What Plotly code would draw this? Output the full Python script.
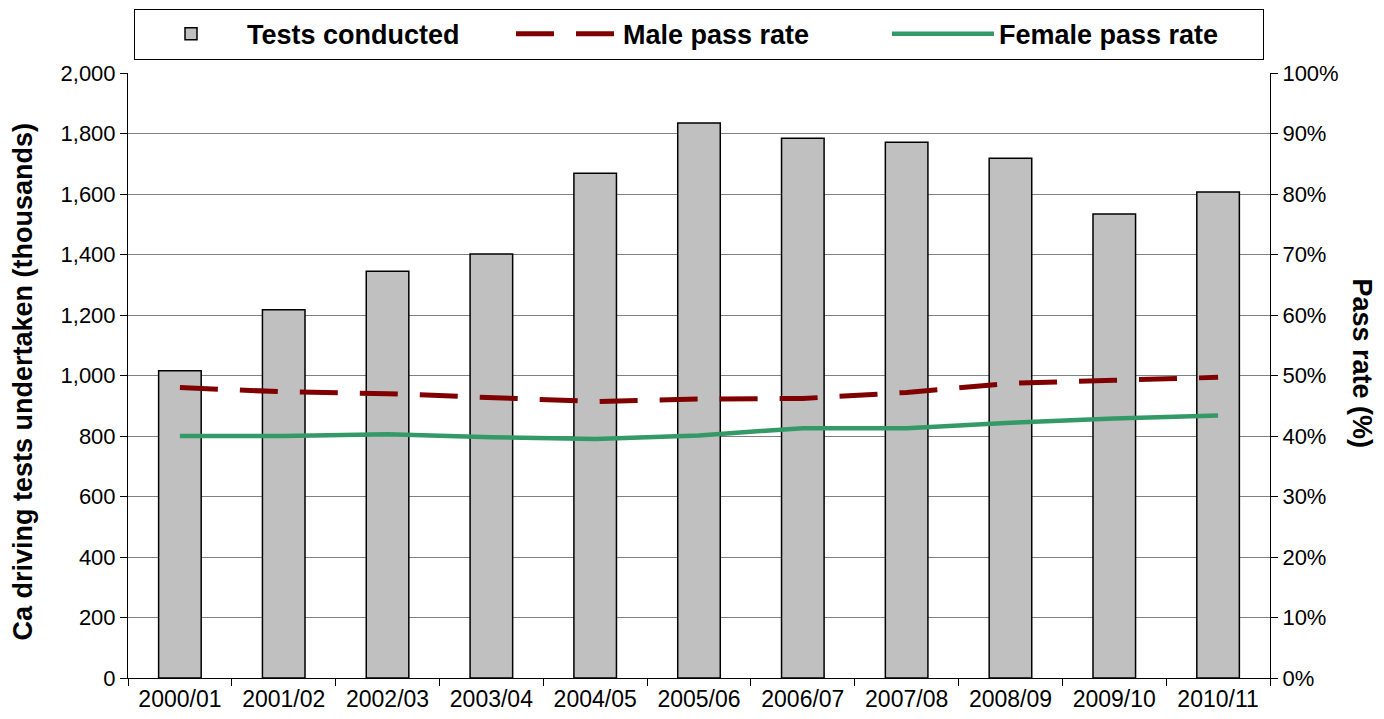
import plotly.graph_objects as go

years = ["2000/01", "2001/02", "2002/03", "2003/04", "2004/05", "2005/06",
         "2006/07", "2007/08", "2008/09", "2009/10", "2010/11"]
tests_conducted = [1016, 1217, 1345, 1402, 1669, 1835, 1784, 1771, 1718, 1534, 1607]
male_pass_rate = [0.480, 0.473, 0.470, 0.464, 0.457, 0.461, 0.462, 0.472, 0.487, 0.492, 0.497]
female_pass_rate = [0.400, 0.400, 0.403, 0.398, 0.395, 0.401, 0.413, 0.413, 0.422, 0.429, 0.434]

FONT = "Liberation Sans, Arial, sans-serif"
TICK = 22

fig = go.Figure()
fig.add_trace(go.Bar(
    x=years, y=tests_conducted, name="Tests conducted",
    marker=dict(color="#C0C0C0", line=dict(color="black", width=1.5)),
    width=0.41, yaxis="y",
))
fig.add_trace(go.Scatter(
    x=years, y=male_pass_rate, name="Male pass rate", mode="lines",
    line=dict(color="#800000", width=5, dash="38px,22px"), yaxis="y2",
))
fig.add_trace(go.Scatter(
    x=years, y=female_pass_rate, name="Female pass rate", mode="lines",
    line=dict(color="#339966", width=4.5), yaxis="y2",
))

n = len(years)
boundaries = [i - 0.5 for i in range(n + 1)]

fig.update_layout(
    width=1376, height=711,
    margin=dict(l=120, r=114, t=65, b=41, autoexpand=False),
    paper_bgcolor="white", plot_bgcolor="white",
    font=dict(family=FONT, color="black", size=TICK),
    showlegend=True,
    legend=dict(
        orientation="h", x=0.5, xanchor="center", y=1.022, yanchor="bottom",
        bordercolor="black", borderwidth=1, bgcolor="white",
        font=dict(family=FONT, size=27, color="black", weight="bold"),
        entrywidth=259, itemwidth=102,
    ),
    xaxis=dict(
        type="category", range=[-0.5, n - 0.5],
        showline=True, linecolor="black", linewidth=1,
        ticks="outside", ticklen=7, tickcolor="black", tickson="boundaries",
        tickfont=dict(size=23), showgrid=False,
    ),
    xaxis2=dict(
        overlaying="x", anchor="y", side="bottom", range=[-0.5, n - 0.5],
        tickvals=boundaries, ticks="inside", ticklen=7, tickcolor="black",
        showticklabels=False, showline=False, showgrid=False, zeroline=False,
    ),
    yaxis=dict(
        range=[0, 2000], dtick=200, tickformat=",",
        showline=True, linecolor="black", linewidth=1,
        ticks="outside", ticklen=7, tickcolor="black",
        showgrid=True, gridcolor="#808080", gridwidth=1,
        tickfont=dict(size=TICK), zeroline=False,
    ),
    yaxis3=dict(
        overlaying="y", anchor="x", side="left", range=[0, 2000], dtick=200,
        ticks="inside", ticklen=7, tickcolor="black",
        showticklabels=False, showline=False, showgrid=False, zeroline=False,
    ),
    yaxis2=dict(
        range=[0, 1], dtick=0.1, tickformat=".0%",
        overlaying="y", side="right",
        showline=True, linecolor="black", linewidth=1,
        ticks="outside", ticklen=7, tickcolor="black",
        showgrid=False, tickfont=dict(size=TICK), zeroline=False,
    ),
    yaxis4=dict(
        overlaying="y", anchor="x", side="right", range=[0, 1], dtick=0.1,
        ticks="inside", ticklen=7, tickcolor="black",
        showticklabels=False, showline=False, showgrid=False, zeroline=False,
    ),
    annotations=[
        dict(text="<b>Ca driving tests undertaken (thousands)</b>", xref="paper", yref="paper",
             x=-0.092, y=0.49, textangle=-90, showarrow=False,
             font=dict(family=FONT, size=27, color="black"), xanchor="center", yanchor="middle"),
        dict(text="<b>Pass rate (%)</b>", xref="paper", yref="paper",
             x=1.0805, y=0.52, textangle=90, showarrow=False,
             font=dict(family=FONT, size=27, color="black"), xanchor="center", yanchor="middle"),
    ],
)

fig.write_html("out.html")
